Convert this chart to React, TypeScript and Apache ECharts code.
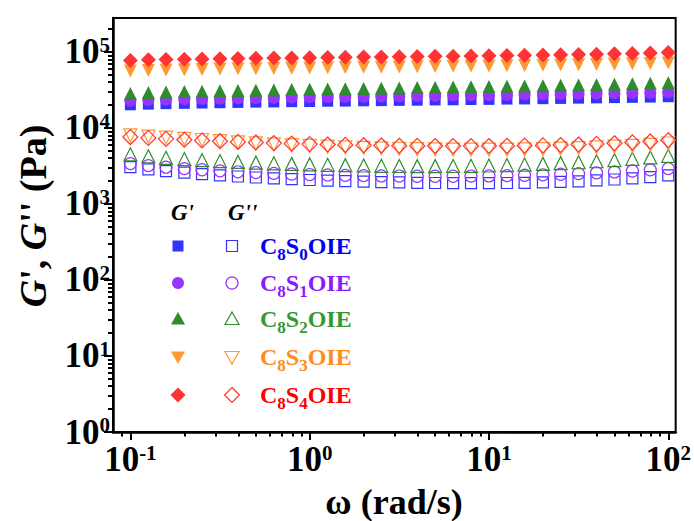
import React, { useEffect, useRef } from 'react';
import * as echarts from 'echarts';

const omega = [0.1, 0.126, 0.158, 0.2, 0.251, 0.316, 0.398, 0.501, 0.631, 0.794, 1, 1.26, 1.58, 2, 2.51, 3.16, 3.98, 5.01, 6.31, 7.94, 10, 12.6, 15.8, 20, 25.1, 31.6, 39.8, 50.1, 63.1, 79.4, 100];

const gp_S0 = [20200, 20600, 20900, 21100, 21300, 21500, 21700, 21900, 22000, 22200, 22300, 22500, 22600, 22800, 22900, 23100, 23200, 23400, 23500, 23700, 23800, 24000, 24100, 24300, 24500, 24700, 24900, 25100, 25300, 25500, 25800];
const gp_S1 = [22800, 23300, 23600, 23900, 24100, 24300, 24500, 24700, 24900, 25100, 25300, 25400, 25600, 25800, 26000, 26100, 26300, 26500, 26700, 26900, 27000, 27200, 27400, 27600, 27800, 28000, 28200, 28500, 28800, 29100, 29500];
const gp_S2 = [28500, 29200, 29700, 30100, 30500, 30800, 31100, 31400, 31700, 32000, 32300, 32600, 32800, 33100, 33400, 33700, 34000, 34200, 34500, 34800, 35100, 35400, 35700, 36000, 36400, 36700, 37100, 37600, 38100, 38700, 39400];
const gp_S3 = [56000, 57000, 57800, 58400, 59000, 59500, 60000, 60400, 60800, 61200, 61600, 62000, 62400, 62800, 63200, 63600, 64000, 64400, 64800, 65200, 65600, 66000, 66500, 67000, 67500, 68000, 68600, 69200, 69900, 70700, 71600];
const gp_S4 = [77500, 78800, 79700, 80400, 81000, 81600, 82100, 82600, 83100, 83600, 84100, 84600, 85100, 85600, 86100, 86600, 87100, 87600, 88100, 88700, 89300, 89900, 90500, 91200, 92000, 92800, 93700, 94700, 95800, 97000, 98500];

const gpp_S0 = [3050, 2850, 2700, 2580, 2470, 2380, 2300, 2230, 2170, 2120, 2070, 2030, 2000, 1970, 1940, 1920, 1900, 1890, 1880, 1880, 1880, 1890, 1900, 1920, 1950, 1990, 2040, 2100, 2170, 2260, 2380];
const gpp_S1 = [3400, 3200, 3050, 2920, 2820, 2730, 2650, 2590, 2530, 2480, 2440, 2410, 2380, 2360, 2340, 2330, 2320, 2320, 2320, 2330, 2340, 2360, 2390, 2420, 2460, 2510, 2570, 2640, 2720, 2810, 2920];
const gpp_S2 = [4500, 4250, 4050, 3900, 3780, 3670, 3580, 3500, 3430, 3370, 3320, 3280, 3240, 3210, 3180, 3160, 3150, 3150, 3160, 3180, 3210, 3250, 3300, 3370, 3450, 3540, 3650, 3780, 3930, 4100, 4300];
const gpp_S3 = [8000, 7700, 7450, 7200, 6950, 6700, 6480, 6280, 6100, 5950, 5800, 5680, 5570, 5480, 5400, 5330, 5270, 5230, 5200, 5180, 5180, 5200, 5230, 5280, 5350, 5440, 5550, 5680, 5830, 6000, 6250];
const gpp_S4 = [7600, 7400, 7200, 7000, 6850, 6700, 6560, 6440, 6330, 6230, 6140, 6060, 5990, 5930, 5880, 5840, 5810, 5790, 5780, 5780, 5790, 5810, 5850, 5900, 5970, 6060, 6170, 6300, 6460, 6650, 6900];

const sampleNames = ['C8S0OIE', 'C8S1OIE', 'C8S2OIE', 'C8S3OIE', 'C8S4OIE'];
const sampleSub = ['0', '1', '2', '3', '4'];
const storageData = [gp_S0, gp_S1, gp_S2, gp_S3, gp_S4];
const lossData = [gpp_S0, gpp_S1, gpp_S2, gpp_S3, gpp_S4];

const markerColors = ['#3333FF', '#9933FF', '#2E8B2E', '#FF9933', '#FF3333'];
const textColors = ['#0000EE', '#8B1AFF', '#339933', '#FF8C1A', '#FF0000'];

const xMajor = [0.1, 1, 10, 100];
const xMinor = [0.09, 0.2, 0.3, 0.4, 0.5, 0.6, 0.7, 0.8, 0.9, 2, 3, 4, 5, 6, 7, 8, 9, 20, 30, 40, 50, 60, 70, 80, 90];
const yMajor = [1, 10, 100, 1000, 10000, 100000];
const yMinor = [2, 3, 4, 5, 6, 7, 8, 9, 20, 30, 40, 50, 60, 70, 80, 90, 200, 300, 400, 500, 600, 700, 800, 900, 2000, 3000, 4000, 5000, 6000, 7000, 8000, 9000, 20000, 30000, 40000, 50000, 60000, 70000, 80000, 90000, 200000];

const xTitle = 'ω (rad/s)';
const FONT = "'Liberation Serif', 'Times New Roman', serif";

const symbols = [
  { symbol: 'rect', size: 11, rotate: 0 },
  { symbol: 'circle', size: 12, rotate: 0 },
  { symbol: 'triangle', size: 13, rotate: 0 },
  { symbol: 'triangle', size: 13, rotate: 180 },
  { symbol: 'diamond', size: 15, rotate: 0 },
];

const supLabel = (v: number) => {
  const e = Math.round(Math.log10(v));
  return `{b|10}{s|${e}}`;
};

const labelRich = {
  b: { fontSize: 35, fontWeight: 'bold', fontFamily: FONT, color: '#000' },
  s: { fontSize: 21, fontWeight: 'bold', fontFamily: FONT, color: '#000', verticalAlign: 'top' },
};

export default function App() {
  const ref = useRef<HTMLDivElement>(null);
  useEffect(() => {
    if (!ref.current) return;
    const chart = echarts.init(ref.current, null, { renderer: 'svg' });

    const series: any[] = [];
    for (let k = 0; k < 5; k++) {
      series.push({
        type: 'scatter',
        name: sampleNames[k] + " G'",
        data: omega.map((w, i) => [w, storageData[k][i]]),
        symbol: symbols[k].symbol,
        symbolSize: symbols[k].size,
        symbolRotate: symbols[k].rotate,
        itemStyle: { color: markerColors[k], opacity: 1 },
        z: 3,
      });
    }
    for (let k = 0; k < 5; k++) {
      series.push({
        type: 'scatter',
        name: sampleNames[k] + " G''",
        data: omega.map((w, i) => [w, lossData[k][i]]),
        symbol: symbols[k].symbol,
        symbolSize: symbols[k].size,
        symbolRotate: symbols[k].rotate,
        itemStyle: { color: 'rgba(255,255,255,0)', borderColor: markerColors[k], borderWidth: 1.2, opacity: 1 },
        z: 2,
      });
    }

    const legendX1 = 178;
    const legendX2 = 232;
    const rowsY = [246, 283, 319, 357, 395];
    const graphics: any[] = [];
    const markerShape = (k: number, cx: number, cy: number, filled: boolean) => {
      const style = filled
        ? { fill: markerColors[k], stroke: markerColors[k], lineWidth: 0 }
        : { fill: 'none', stroke: markerColors[k], lineWidth: 1.2 };
      if (k === 0) return { type: 'rect', shape: { x: cx - 5.5, y: cy - 5.5, width: 11, height: 11 }, style };
      if (k === 1) return { type: 'circle', shape: { cx, cy, r: 6 }, style };
      if (k === 2) return { type: 'polygon', shape: { points: [[cx, cy - 7], [cx + 7, cy + 5.5], [cx - 7, cy + 5.5]] }, style };
      if (k === 3) return { type: 'polygon', shape: { points: [[cx, cy + 7], [cx + 7, cy - 5.5], [cx - 7, cy - 5.5]] }, style };
      return { type: 'polygon', shape: { points: [[cx, cy - 7.5], [cx + 7.5, cy], [cx, cy + 7.5], [cx - 7.5, cy]] }, style };
    };
    for (let k = 0; k < 5; k++) {
      graphics.push(markerShape(k, legendX1, rowsY[k], true));
      graphics.push(markerShape(k, legendX2, rowsY[k], false));
      graphics.push({
        type: 'text',
        x: 260,
        y: rowsY[k],
        style: {
          text: `{t|C}{u|8}{t|S}{u|${sampleSub[k]}}{t|OIE}`,
          verticalAlign: 'middle',
          align: 'left',
          rich: {
            t: { fontSize: 24, fontWeight: 'bold', fontFamily: FONT, fill: textColors[k] },
            u: { fontSize: 17, fontWeight: 'bold', fontFamily: FONT, fill: textColors[k], padding: [16, 0, 0, 0] },
          },
        },
      });
    }
    graphics.push({
      type: 'text', x: 171, y: 212,
      style: { text: "G'", fontSize: 23, fontWeight: 'bold', fontStyle: 'italic', fontFamily: FONT, fill: '#000', verticalAlign: 'middle' },
    });
    graphics.push({
      type: 'text', x: 228, y: 212,
      style: { text: "G''", fontSize: 23, fontWeight: 'bold', fontStyle: 'italic', fontFamily: FONT, fill: '#000', verticalAlign: 'middle' },
    });
    graphics.push({
      type: 'text', x: 33, y: 216, rotation: Math.PI / 2,
      style: {
        text: "{i|G}{n|', }{i|G}{n|'' (Pa)}",
        align: 'center', verticalAlign: 'middle',
        rich: {
          i: { fontSize: 38, fontWeight: 'bold', fontStyle: 'italic', fontFamily: FONT, fill: '#000' },
          n: { fontSize: 38, fontWeight: 'bold', fontFamily: FONT, fill: '#000' },
        },
      },
    });
    graphics.push({
      type: 'text', x: 394, y: 502,
      style: { text: xTitle, fontSize: 36, fontWeight: 'bold', fontFamily: FONT, fill: '#000', align: 'center', verticalAlign: 'middle' },
    });

    chart.setOption({
      animation: false,
      backgroundColor: '#fff',
      grid: { left: 113, right: 17, top: 18, bottom: 89, show: true, borderColor: '#000', borderWidth: 2, backgroundColor: 'transparent' },
      xAxis: [
        {
          type: 'log', logBase: 10, min: 0.08, max: 110,
          axisLine: { show: true, lineStyle: { color: '#000', width: 2.5 } },
          axisTick: { show: true, customValues: xMajor, length: 8, lineStyle: { color: '#000', width: 2 } },
          axisLabel: { show: true, customValues: xMajor, formatter: supLabel, rich: labelRich, margin: 10 },
          splitLine: { show: false },
          minorTick: { show: false },
        },
        {
          type: 'log', logBase: 10, min: 0.08, max: 110, position: 'bottom',
          axisLine: { show: false },
          axisTick: { show: true, customValues: xMinor, length: 4.5, lineStyle: { color: '#000', width: 2 } },
          axisLabel: { show: false },
          splitLine: { show: false },
        },
      ],
      yAxis: [
        {
          type: 'log', logBase: 10, min: 1, max: 280000,
          axisLine: { show: true, lineStyle: { color: '#000', width: 2.5 } },
          axisTick: { show: true, customValues: yMajor, length: 9, lineStyle: { color: '#000', width: 2 } },
          axisLabel: { show: true, customValues: yMajor, formatter: supLabel, rich: labelRich, margin: 3 },
          splitLine: { show: false },
        },
        {
          type: 'log', logBase: 10, min: 1, max: 280000, position: 'left',
          axisLine: { show: false },
          axisTick: { show: true, customValues: yMinor, length: 5, lineStyle: { color: '#000', width: 2 } },
          axisLabel: { show: false },
          splitLine: { show: false },
        },
      ],
      graphic: graphics,
      series,
    });
    return () => chart.dispose();
  }, []);
  return <div ref={ref} style={{ position: 'absolute', left: 0, top: 0, width: 694, height: 521 }} />;
}
